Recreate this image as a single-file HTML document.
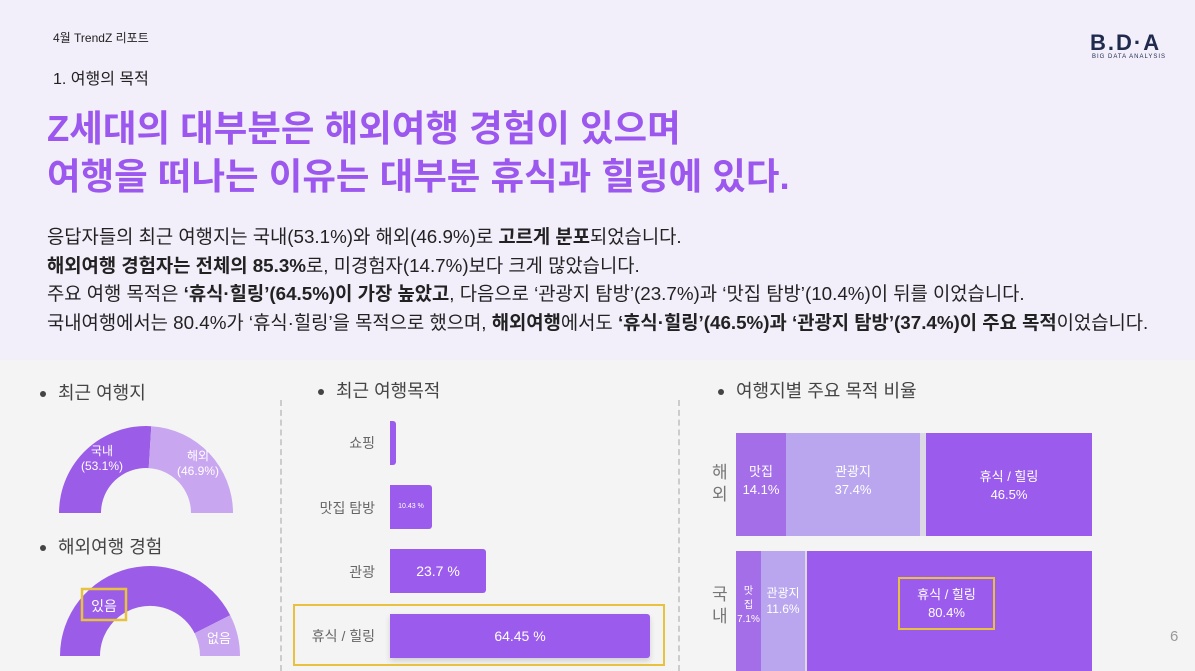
<!DOCTYPE html>
<html><head><meta charset="utf-8"><style>
*{margin:0;padding:0;box-sizing:border-box}
body{width:1195px;height:671px;overflow:hidden;position:relative;background:#f4f4f4;font-family:"Liberation Sans","Noto Sans CJK KR",sans-serif;color:#222}
.top{position:absolute;left:0;top:0;width:1195px;height:360px;background:#f2eefa}
.a{position:absolute;white-space:nowrap}
.t{font-size:36.5px;font-weight:bold;color:#9b57ee;line-height:48px;left:47px;top:105px}
.b{font-size:18.8px;left:47px;line-height:28.5px;top:223px}
.h{font-size:18px;color:#444}
.h:before{content:"";display:inline-block;width:6px;height:6px;border-radius:3px;background:#444;margin-right:12px;vertical-align:middle}
.lb{font-size:14px;color:#666;text-align:right;width:80px}
.bar{position:absolute;background:#9b5ced;border-radius:0 3px 3px 0;color:#fff;text-align:center}
.seg{position:absolute;color:#fff;text-align:center;font-size:13px;line-height:18px}
.dash{position:absolute;width:0;border-left:2px dashed #ccc;top:400px;height:271px}
</style></head><body>
<div class="top"></div>
<div class="a" style="left:53px;top:29px;font-size:12px">4월 TrendZ 리포트</div>
<div class="a" style="left:1090px;top:30px;font-size:22px;font-weight:bold;color:#1f2a4d;letter-spacing:2px">B.D·A</div>
<div class="a" style="left:1092px;top:54px;font-size:6px;color:#1f2a4d;letter-spacing:1px">BIG DATA ANALYSIS</div>
<div class="a" style="left:53px;top:65px;font-size:16px">1. 여행의 목적</div>
<div class="a t">Z세대의 대부분은 해외여행 경험이 있으며<br>여행을 떠나는 이유는 대부분 휴식과 힐링에 있다.</div>
<div class="a b">응답자들의 최근 여행지는 국내(53.1%)와 해외(46.9%)로 <b>고르게 분포</b>되었습니다.<br><b>해외여행 경험자는 전체의 85.3%</b>로, 미경험자(14.7%)보다 크게 많았습니다.<br>주요 여행 목적은 <b>‘휴식·힐링’(64.5%)이 가장 높았고</b>, 다음으로 ‘관광지 탐방’(23.7%)과 ‘맛집 탐방’(10.4%)이 뒤를 이었습니다.<br>국내여행에서는 80.4%가 ‘휴식·힐링’을 목적으로 했으며, <b>해외여행</b>에서도 <b>‘휴식·힐링’(46.5%)과 ‘관광지 탐방’(37.4%)이 주요 목적</b>이었습니다.</div>

<div class="a h" style="left:40px;top:379px">최근 여행지</div>
<div class="a h" style="left:40px;top:533px">해외여행 경험</div>
<div class="a h" style="left:318px;top:377px">최근 여행목적</div>
<div class="a h" style="left:718px;top:377px">여행지별 주요 목적 비율</div>
<div class="dash" style="left:280px"></div>
<div class="dash" style="left:678px"></div>

<svg class="a" style="left:0;top:360px" width="280" height="311">
<g transform="translate(146,153)">
<path d="M-87,0 A87,87 0 0 1 5.3,-86.8 L2.7,-44.9 A45,45 0 0 0 -45,0Z" fill="#9b5ce8"/>
<path d="M5.3,-86.8 A87,87 0 0 1 87,0 L45,0 A45,45 0 0 0 2.7,-44.9Z" fill="#c9a6f0"/>
<text x="-44" y="-58" fill="#fff" font-size="12" text-anchor="middle">국내</text>
<text x="-44" y="-43" fill="#fff" font-size="12" text-anchor="middle">(53.1%)</text>
<text x="52" y="-53" fill="#fff" font-size="12" text-anchor="middle">해외</text>
<text x="52" y="-38" fill="#fff" font-size="12" text-anchor="middle">(46.9%)</text>
</g>
<g transform="translate(150,296)">
<path d="M-90,0 A90,90 0 0 1 80.2,-40.8 L44.6,-22.7 A50,50 0 0 0 -50,0Z" fill="#9b5ce8"/>
<path d="M80.2,-40.8 A90,90 0 0 1 90,0 L50,0 A50,50 0 0 0 44.6,-22.7Z" fill="#c9a6f0"/>
<text x="69" y="-13" fill="#fff" font-size="13" text-anchor="middle">없음</text>
<rect x="-68" y="-67" width="44" height="31" fill="none" stroke="#e8c13e" stroke-width="2.5"/>
<text x="-46" y="-45" fill="#fff" font-size="14" text-anchor="middle">있음</text>
</g>
</svg>

<div class="a lb" style="left:295px;top:433px">쇼핑</div>
<div class="bar" style="left:390px;top:421px;width:6px;height:44px"></div>
<div class="a lb" style="left:295px;top:498px">맛집 탐방</div>
<div class="bar" style="left:390px;top:485px;width:42px;height:44px;font-size:7px;line-height:44px">10.43 %</div>
<div class="a lb" style="left:295px;top:562px">관광</div>
<div class="bar" style="left:390px;top:549px;width:96px;height:44px;font-size:14px;line-height:44px">23.7 %</div>
<div class="a lb" style="left:295px;top:626px">휴식 / 힐링</div>
<div class="bar" style="left:390px;top:614px;width:260px;height:44px;font-size:14px;line-height:44px;box-shadow:0 3px 6px rgba(0,0,0,.15)">64.45 %</div>
<div class="a" style="left:293px;top:604px;width:372px;height:62px;border:2.5px solid #e8c13e"></div>

<div class="a" style="left:712px;top:462px;font-size:17px;color:#777;line-height:22px">해<br>외</div>
<div class="a" style="left:712px;top:584px;font-size:17px;color:#777;line-height:22px">국<br>내</div>
<div class="seg" style="left:736px;top:433px;width:50px;height:103px;background:#a56ee9;padding-top:30px">맛집<br>14.1%</div>
<div class="seg" style="left:786px;top:433px;width:134px;height:103px;background:#b9a6ee;padding-top:30px">관광지<br>37.4%</div>
<div class="seg" style="left:920px;top:433px;width:6px;height:103px;background:#dcd8e6"></div>
<div class="seg" style="left:926px;top:433px;width:166px;height:103px;background:#9b5ced;padding-top:35px">휴식 / 힐링<br>46.5%</div>
<div class="seg" style="left:736px;top:551px;width:25px;height:120px;background:#a56ee9;padding-top:34px;font-size:10px;line-height:14px">맛<br>집<br>7.1%</div>
<div class="seg" style="left:761px;top:551px;width:44px;height:120px;background:#b9a6ee;padding-top:34px;font-size:12px;line-height:16px">관광지<br>11.6%</div>
<div class="seg" style="left:805px;top:551px;width:2px;height:120px;background:#dcd8e6"></div>
<div class="seg" style="left:807px;top:551px;width:285px;height:120px;background:#9b5ced"></div>
<div class="seg" style="left:898px;top:577px;width:97px;height:53px;border:2.5px solid #e8c13e;padding-top:7px;font-size:13px">휴식 / 힐링<br>80.4%</div>
<div class="a" style="left:1170px;top:628px;font-size:15px;color:#999">6</div>
</body></html>
